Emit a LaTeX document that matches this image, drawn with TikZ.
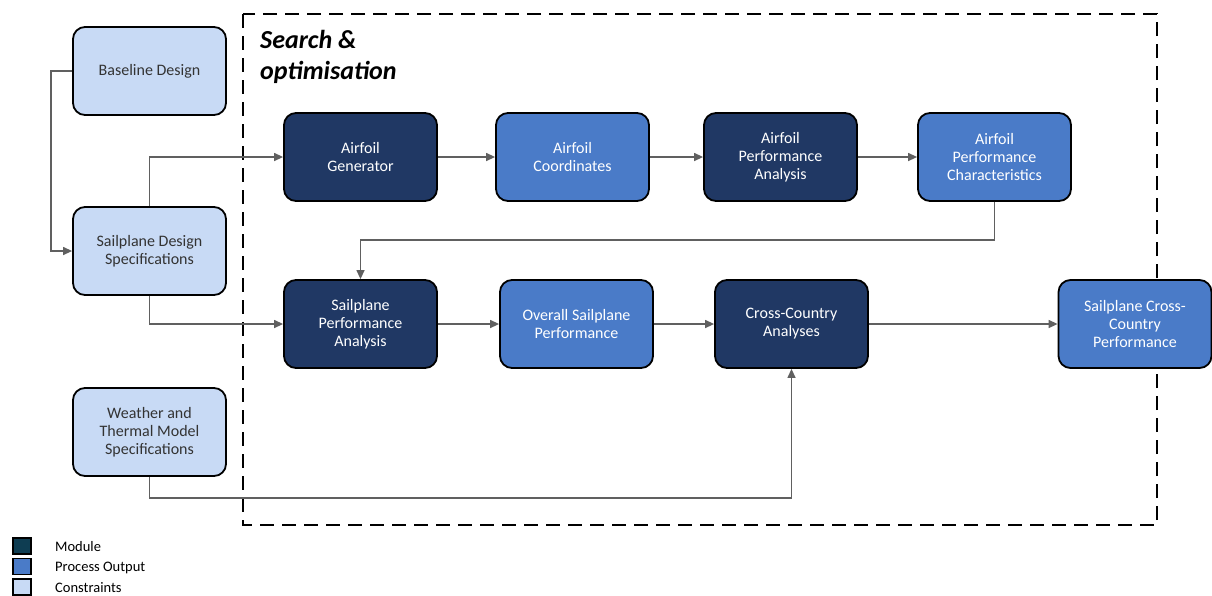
\documentclass[tikz,border=0pt]{standalone}
\usepackage{fontspec}
\setmainfont{Carlito}
\usetikzlibrary{arrows.meta}
\definecolor{modc}{HTML}{203864}
\definecolor{outc}{HTML}{4A7BC8}
\definecolor{conc}{HTML}{C8DAF5}
\definecolor{linec}{HTML}{606060}
\definecolor{legmod}{HTML}{0E3D52}
\begin{document}
\begin{tikzpicture}[x=1pt,y=-1pt,
  box/.style={draw=black,line width=1.8pt,rounded corners=12pt,minimum width=153pt,minimum height=88pt,align=center,font=\fontsize{16}{18}\selectfont,inner sep=2pt},
  modbox/.style={box,fill=modc,text=white},
  outbox/.style={box,fill=outc,text=white},
  conbox/.style={box,fill=conc,text=black!80},
  conn/.style={draw=linec,line width=1.3pt,-{Triangle[length=9pt,width=8pt]}},
  legsq/.style={draw=black,line width=1.5pt,minimum width=18pt,minimum height=16pt,inner sep=0pt},
  legtxt/.style={anchor=west,font=\fontsize{14.5}{16}\selectfont,inner sep=0pt}]
\useasboundingbox (0,0) rectangle (1212,595);
\fill[white] (0,0) rectangle (1212,595);
% dashed frame
\draw[black,line width=2.2pt,dash pattern=on 14pt off 8pt] (243,14) rectangle (1157,525);
\node[anchor=north west,align=left,font=\fontsize{26}{31}\selectfont\bfseries\itshape,inner sep=0pt] (title) at (260,30) {Search \&\\optimisation};
% nodes
\node[conbox] (bd) at (149.5,71) {Baseline Design};
\node[conbox] (sds) at (149.5,251) {Sailplane Design\\Specifications};
\node[conbox] (wt) at (149.5,432) {Weather and\\Thermal Model\\Specifications};
\node[modbox] (ag) at (360.5,157) {Airfoil\\Generator};
\node[outbox] (ac) at (572.5,157) {Airfoil\\Coordinates};
\node[modbox] (apa) at (780.5,157) {Airfoil\\Performance\\Analysis};
\node[outbox] (apc) at (994.5,157) {Airfoil\\Performance\\Characteristics};
\node[modbox] (spa) at (360.5,324) {Sailplane\\Performance\\Analysis};
\node[outbox] (osp) at (576.5,324) {Overall Sailplane\\Performance};
\node[modbox] (cca) at (791.5,324) {Cross-Country\\Analyses};
\node[outbox] (sccp) at (1135,324) {Sailplane Cross-\\Country\\Performance};
% connectors
\coordinate (c1) at (51,71);
\coordinate (c2) at (51,251);
\draw[conn] (bd.west) -- (c1) -- (c2) -- (sds.west);
\coordinate (c3) at (149.5,157);
\draw[conn] (sds.north) -- (c3) -- (ag.west);
\coordinate (c4) at (149.5,324);
\draw[conn] (sds.south) -- (c4) -- (spa.west);
\coordinate (c5) at (149.5,498);
\coordinate (c6) at (791.5,498);
\draw[conn] (wt.south) -- (c5) -- (c6) -- (cca.south);
\draw[conn] (ag) -- (ac);
\draw[conn] (ac) -- (apa);
\draw[conn] (apa) -- (apc);
\coordinate (c7) at (994.5,240);
\coordinate (c8) at (360.5,240);
\draw[conn] (apc.south) -- (c7) -- (c8) -- (spa.north);
\draw[conn] (spa) -- (osp);
\draw[conn] (osp) -- (cca);
\draw[conn] (cca) -- (sccp);
% legend
\node[legsq,fill=legmod] (l1) at (22,546) {};
\node[legsq,fill=outc] (l2) at (22,566.5) {};
\node[legsq,fill=conc] (l3) at (22,587) {};
\node[legtxt] (t1) at (55,547) {Module};
\node[legtxt] (t2) at (55,567.5) {Process Output};
\node[legtxt] (t3) at (55,588) {Constraints};
\end{tikzpicture}
\end{document}
